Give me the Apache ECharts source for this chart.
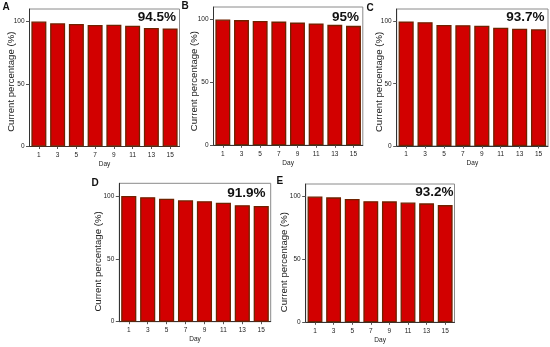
<!DOCTYPE html>
<html>
<head>
<meta charset="utf-8">
<script src="https://cdn.jsdelivr.net/npm/echarts@6/dist/echarts.min.js"></script>
<style>html,body{margin:0;padding:0;background:#fff;}#c{width:550px;height:347px;}</style>
</head>
<body>
<div id="c"></div>
<script>
const days = ['1','3','5','7','9','11','13','15'];
const valuesA = [100, 98.6, 98.1, 97.3, 97.5, 96.6, 94.8, 94.5];
const valuesB = [100, 99.6, 98.9, 98.4, 97.6, 96.9, 95.8, 95.0];
const valuesC = [100, 99.4, 97.2, 97.0, 96.6, 95.0, 94.2, 93.7];
const valuesD = [100, 99.0, 97.8, 96.5, 95.8, 94.5, 92.6, 91.9];
const valuesE = [100, 99.4, 98.1, 96.3, 96.2, 95.3, 94.6, 93.2];
const panelLetters = ['A','B','C','D','E'];
const retention = ['94.5%','95%','93.7%','91.9%','93.2%'];
const yTicks = [0, 50, 100];
const yName = 'Current percentage (%)';
const xName = 'Day';

const series = [valuesA, valuesB, valuesC, valuesD, valuesE];
// layout (pixels)
const grids = [
  {left: 29.5, right: 550-179.5, top: 9, bottom: 347-146.5},
  {left: 213.5, right: 550-362.8, top: 7, bottom: 347-145.3},
  {left: 396.7, right: 550-548, top: 9, bottom: 347-146},
  {left: 119.3, right: 550-270.7, top: 183.3, bottom: 347-321.7},
  {left: 305.7, right: 550-454.5, top: 184, bottom: 347-322.3}
];
const nameGaps = [12.8, 14.3, 12.8, 16, 16.4];
const nameShift = [8, 10, 9, 18, 18];
const valTitlePos = [
  {right: 550-176, top: 10.5},
  {right: 550-359, top: 10},
  {right: 550-544.5, top: 10.5},
  {right: 550-265.5, top: 186.5},
  {right: 550-453.5, top: 185.5}
];
const letterPos = [
  {left: 2.5, top: 2}, {left: 181.5, top: 1.5}, {left: 366.5, top: 3},
  {left: 91.5, top: 178}, {left: 276.5, top: 176}
];
const font = 'Liberation Sans, Arial, sans-serif';

const option = {
  animation: false,
  backgroundColor: '#fff',
  title: [],
  grid: [], xAxis: [], yAxis: [], series: []
};
for (let i = 0; i < 5; i++) {
  option.grid.push(Object.assign({show: true, borderColor: '#8a8a8a', borderWidth: 1, containLabel: false}, grids[i]));
  option.xAxis.push({
    type: 'category', gridIndex: i, data: days,
    name: xName, nameLocation: 'middle', nameGap: 14, nameMoveOverlap: false,
    nameTextStyle: {fontSize: 6.5, color: '#222', fontFamily: font},
    axisLine: {show: true, lineStyle: {color: '#333', width: 1}},
    axisTick: {show: true, alignWithLabel: true, length: 2.5, lineStyle: {color: '#555'}},
    axisLabel: {fontSize: 6.5, color: '#222', margin: 5, fontFamily: font, interval: 0},
    splitLine: {show: false}
  });
  option.yAxis.push({
    type: 'value', gridIndex: i, min: 0, max: 110,
    name: yName, nameLocation: 'middle', nameGap: nameGaps[i], nameMoveOverlap: false,
    nameTextStyle: {fontSize: 9.6, color: '#222', fontFamily: font, padding: [0, nameShift[i], 0, 0]},
    axisLine: {show: true, lineStyle: {color: '#333', width: 1}},
    axisTick: {show: true, length: 3.5, customValues: yTicks, lineStyle: {color: '#555'}},
    axisLabel: {fontSize: 6.5, color: '#222', margin: 5, fontFamily: font, customValues: yTicks},
    splitLine: {show: false}
  });
  option.series.push({
    type: 'bar', xAxisIndex: i, yAxisIndex: i, data: series[i],
    barWidth: '80%',
    itemStyle: {color: '#d20000', borderColor: '#6e2200', borderWidth: 1.3}
  });
  option.title.push(Object.assign({
    text: retention[i], padding: 0,
    textStyle: {fontSize: 13.5, fontWeight: 'bold', color: '#111', fontFamily: font}
  }, valTitlePos[i]));
  option.title.push(Object.assign({
    text: panelLetters[i], padding: 0,
    textStyle: {fontSize: 10, fontWeight: 'bold', color: '#111', fontFamily: font}
  }, letterPos[i]));
}
const chart = echarts.init(document.getElementById('c'), null, {renderer: 'canvas'});
chart.setOption(option);
</script>
</body>
</html>
